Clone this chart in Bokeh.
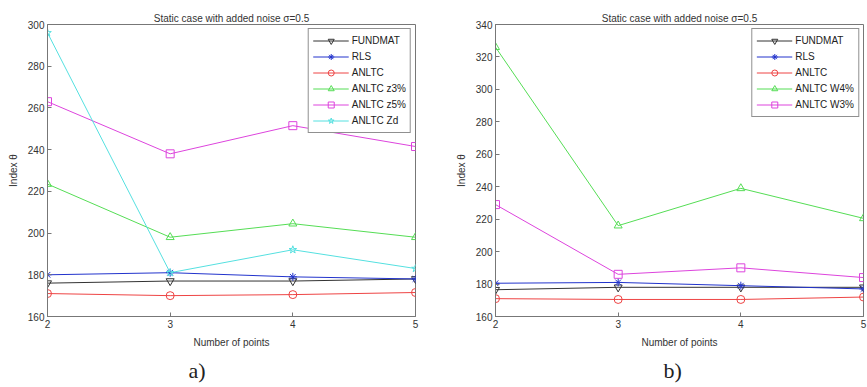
from bokeh.plotting import figure
from bokeh.layouts import row
from bokeh.models import Title, FixedTicker, Range1d
from bokeh.embed import file_html
from bokeh.resources import INLINE

x_points = [2, 3, 4, 5]

# Panel a)
a_fundmat = [176, 177, 177, 178]
a_rls = [180, 181, 179, 178]
a_anltc = [171, 170, 170.5, 171.5]
a_z3 = [223.5, 198, 204.5, 198]
a_z5 = [263, 238, 251.5, 241.5]
a_zd = [296, 181, 192, 183]

# Panel b)
b_fundmat = [176.5, 178, 178, 178]
b_rls = [180.5, 181, 179, 177]
b_anltc = [171, 170.5, 170.5, 172]
b_w4 = [326, 216, 239, 220.5]
b_w3 = [229, 186, 190, 184]

a_yticks = [160, 180, 200, 220, 240, 260, 280, 300]
b_yticks = [160, 180, 200, 220, 240, 260, 280, 300, 320, 340]

TITLE = "Static case with added noise σ=0.5"
FONT = "Liberation Sans"
TXT = "#333333"

BLACK = "#333333"
BLUE = "#2233cc"
RED = "#ee4444"
GREEN = "#55dd55"
MAGENTA = "#dd44dd"
CYAN = "#55e0e0"


def make_fig(width, left, right, yr, yticks, caption, cap_offset):
    p = figure(width=width, height=387, output_backend="svg", toolbar_location=None,
               x_range=Range1d(2, 5), y_range=Range1d(*yr),
               min_border_left=left, min_border_right=right,
               min_border_top=24, min_border_bottom=20)
    p.title.text = TITLE
    p.title.align = "center"
    p.title.text_font = FONT
    p.title.text_font_size = "10px"
    p.title.text_font_style = "normal"
    p.title.text_color = TXT
    p.title.standoff = 2
    p.add_layout(Title(text=caption, align="left", offset=cap_offset,
                       text_font="Liberation Serif",
                       text_font_size="22px", text_font_style="normal",
                       text_color="#222222"), "below")
    p.xgrid.visible = False
    p.ygrid.visible = False
    p.outline_line_color = "#777777"
    p.outline_line_alpha = 1
    p.xaxis.ticker = FixedTicker(ticks=x_points)
    p.yaxis.ticker = FixedTicker(ticks=yticks)
    for ax in (p.xaxis, p.yaxis):
        ax.axis_line_color = "#777777"
        ax.major_tick_line_color = "#777777"
        ax.major_tick_in = 4
        ax.major_tick_out = 0
        ax.minor_tick_line_color = None
        ax.major_label_text_font = FONT
        ax.major_label_text_font_size = "10px"
        ax.major_label_text_color = TXT
        ax.axis_label_text_font = FONT
        ax.axis_label_text_font_size = "10px"
        ax.axis_label_text_font_style = "normal"
        ax.axis_label_text_color = TXT
    p.xaxis.axis_label = "Number of points"
    p.yaxis.axis_label = "Index θ"
    p.xaxis.major_label_standoff = 3
    p.yaxis.major_label_standoff = 3
    p.xaxis.axis_label_standoff = 6
    p.yaxis.axis_label_standoff = 6
    return p


def add_series(p, y, color, marker, label):
    p.line(x_points, y, line_color=color, line_width=1, legend_label=label)
    p.scatter(x_points, y, marker=marker, size=8, line_color=color,
              fill_color=None, line_width=1, legend_label=label)


def style_legend(p):
    lg = p.legend[0]
    lg.location = "top_right"
    lg.margin = 4
    lg.padding = 4
    lg.spacing = 1
    lg.glyph_width = 36
    lg.glyph_height = 15
    lg.label_height = 15
    lg.label_standoff = 3
    lg.label_text_font = FONT
    lg.label_text_font_size = "10px"
    lg.label_text_color = "#222222"
    lg.border_line_color = "#222222"
    lg.border_line_width = 1
    lg.background_fill_alpha = 1


pa = make_fig(433, 47, 18, (160, 300), a_yticks, "a)", 141)
add_series(pa, a_fundmat, BLACK, "inverted_triangle", "FUNDMAT")
add_series(pa, a_rls, BLUE, "asterisk", "RLS")
add_series(pa, a_anltc, RED, "circle", "ANLTC")
add_series(pa, a_z3, GREEN, "triangle", "ANLTC z3%")
add_series(pa, a_z5, MAGENTA, "square", "ANLTC z5%")
add_series(pa, a_zd, CYAN, "star", "ANLTC Zd")
style_legend(pa)

pb = make_fig(434, 62, 4, (160, 340), b_yticks, "b)", 168)
add_series(pb, b_fundmat, BLACK, "inverted_triangle", "FUNDMAT")
add_series(pb, b_rls, BLUE, "asterisk", "RLS")
add_series(pb, b_anltc, RED, "circle", "ANLTC")
add_series(pb, b_w4, GREEN, "triangle", "ANLTC W4%")
add_series(pb, b_w3, MAGENTA, "square", "ANLTC W3%")
style_legend(pb)

layout = row(pa, pb, spacing=0)
open("out.html", "w").write(file_html(layout, INLINE))
